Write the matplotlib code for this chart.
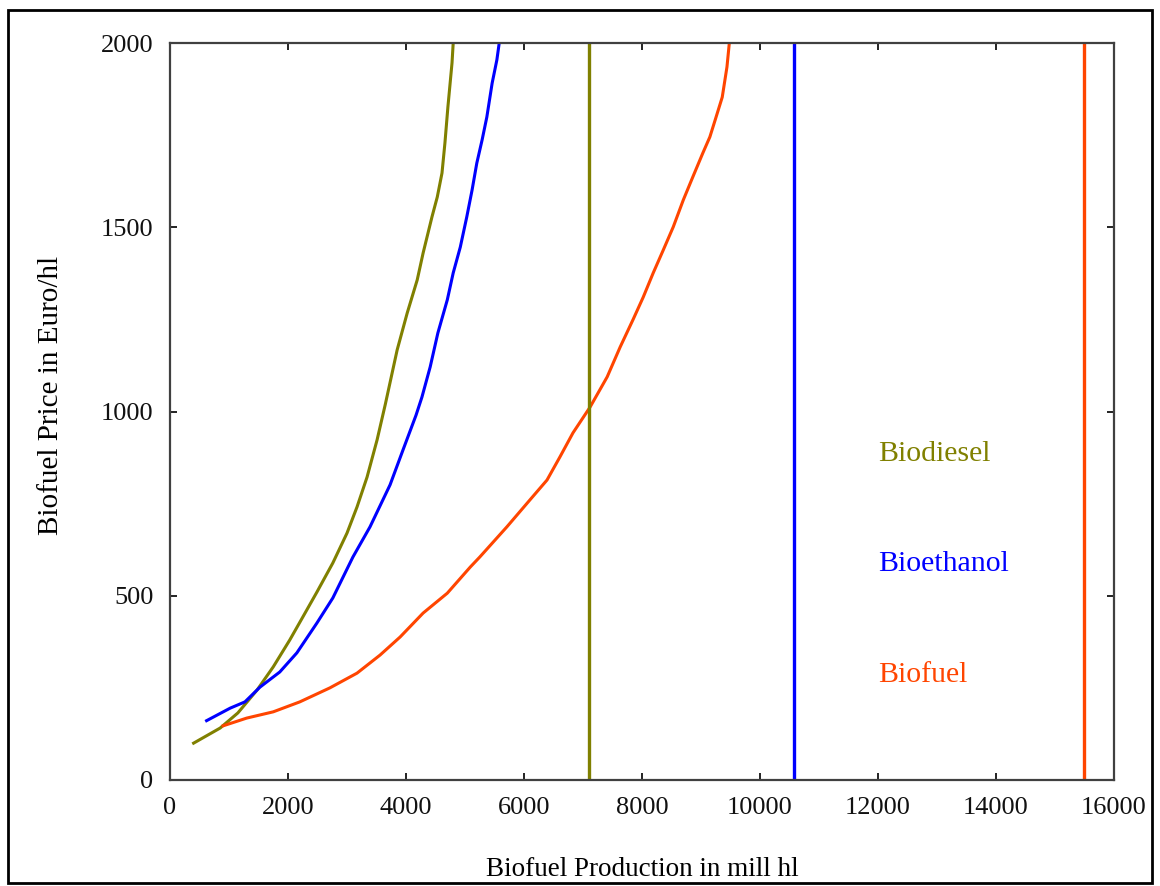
import matplotlib
matplotlib.use('Agg')
import matplotlib.pyplot as plt
from matplotlib.patches import Rectangle

# 데이터
biodiesel_x = [400, 850, 1150, 1475, 1750, 2030, 2250, 2490, 2760, 3000, 3170, 3340, 3510, 3650,
               3850, 4020, 4190, 4290, 4440, 4530, 4610, 4660, 4710, 4780, 4800]
biodiesel_y = [100, 141, 182, 244, 307, 380, 442, 510, 589, 670, 741, 822, 923, 1020,
               1167, 1267, 1357, 1430, 1528, 1582, 1647, 1729, 1826, 1946, 2000]

bioethanol_x = [620, 1020, 1270, 1525, 1860, 2150, 2490, 2760, 3100, 3390, 3730, 3950, 4170, 4270,
                4410, 4540, 4700, 4800, 4920, 5030, 5120, 5200, 5290, 5370, 5460, 5540, 5580]
bioethanol_y = [161, 195, 212, 252, 293, 345, 426, 494, 605, 687, 801, 896, 990, 1039,
                1121, 1213, 1303, 1376, 1446, 1528, 1601, 1674, 1737, 1799, 1891, 1954, 2000]

biofuel_x = [900, 1300, 1750, 2200, 2710, 3170, 3560, 3900, 4290, 4700, 5090, 5250, 5710, 6100,
             6390, 6610, 6830, 7120, 7410, 7630, 7850, 8020, 8190, 8360, 8530, 8700, 8860, 9030,
             9150, 9240, 9360, 9440, 9480]
biofuel_y = [147, 168, 185, 212, 250, 290, 339, 388, 453, 507, 578, 605, 687, 760,
             814, 877, 942, 1012, 1094, 1175, 1250, 1310, 1376, 1438, 1501, 1574, 1636, 1701,
             1745, 1791, 1853, 1935, 2000]

# 최대 생산량 (세로선)
capacity = {'Biodiesel': 7100, 'Bioethanol': 10570, 'Biofuel': 15490}
label_y = {'Biodiesel': 885, 'Bioethanol': 585, 'Biofuel': 285}
colors = {'Biodiesel': '#808000', 'Bioethanol': '#0000ff', 'Biofuel': '#ff4500'}

x_ticks = [0, 2000, 4000, 6000, 8000, 10000, 12000, 14000, 16000]
y_ticks = [0, 500, 1000, 1500, 2000]

plt.rcParams['font.family'] = ['Liberation Serif', 'DejaVu Serif']

fig = plt.figure(figsize=(11.6, 8.86), dpi=100)
ax = fig.add_axes([170 / 1160, 1 - 780 / 886, (1114 - 170) / 1160, (780 - 43) / 886])

ax.plot(biodiesel_x, biodiesel_y, color=colors['Biodiesel'], lw=2.2)
ax.plot(bioethanol_x, bioethanol_y, color=colors['Bioethanol'], lw=2.2)
ax.plot(biofuel_x, biofuel_y, color=colors['Biofuel'], lw=2.2)

for name, xv in capacity.items():
    ax.axvline(xv, color=colors[name], lw=2.4)
    ax.text(12000, label_y[name], name, color=colors[name], fontsize=21.5, va='center', ha='left')

ax.set_xlim(0, 16000)
ax.set_ylim(0, 2000)
ax.set_xticks(x_ticks)
ax.set_yticks(y_ticks)
ax.tick_params(direction='in', length=5, width=1.3, top=True, right=True,
               labelsize=19, pad=12, colors='#111111')
for s in ax.spines.values():
    s.set_color('#404040')
    s.set_linewidth(1.6)

ax.set_xlabel('Biofuel Production in mill hl', fontsize=19.5)
ax.set_ylabel('Biofuel Price in Euro/hl', fontsize=21)
ax.xaxis.set_label_coords(0.5, -0.104)
ax.yaxis.set_label_coords(-0.112, 0.522)

# 바깥 테두리
fig.patches.append(Rectangle((8 / 1160, 3 / 886), (1152 - 8) / 1160, (876 - 3) / 886,
                             transform=fig.transFigure, fill=False, ec='black', lw=2))

fig.savefig('out.png', dpi=100)
